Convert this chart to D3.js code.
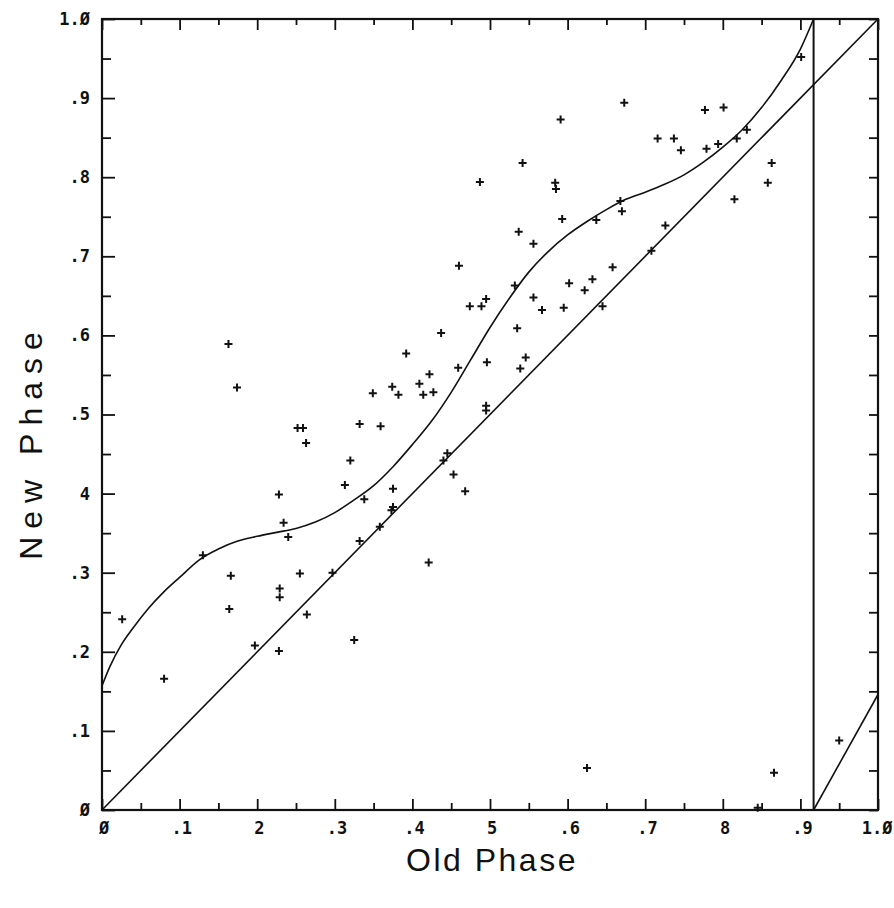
<!DOCTYPE html>
<html>
<head>
<meta charset="utf-8">
<script src="https://cdn.jsdelivr.net/npm/d3@7"></script>
<style>
  body { margin: 0; background: #fff; }
  svg { display: block; }
  .tick-lbl { font-family: "DejaVu Sans Mono", monospace; font-size: 17px; font-weight: bold; fill: #111; }
  .ax-title { font-family: "Liberation Sans", Arial, sans-serif; font-size: 32px; fill: #111; }
</style>
</head>
<body>
<div id="chart"></div>
<script>
// tick values and their printed labels (the original plot drops some dots)
const majorTicks = [0, .1, .2, .3, .4, .5, .6, .7, .8, .9, 1.0];
const xTickLabels = ['Ø', '.1', '2', '.3', '.4', '5', '.6', '.7', '8', '.9', '1.Ø'];
const yTickLabels = ['Ø', '.1', '.2', '.3', '4', '.5', '.6', '.7', '.8', '.9', '1.Ø'];
const minorTicks = [.05, .15, .25, .35, .45, .55, .65, .75, .85, .95];

// observed phases (old, new)
const oldPhase = [
  0.026, 0.080, 0.130, 0.166, 0.164, 0.197, 0.228, 0.234, 0.240, 0.229,
  0.229, 0.228, 0.255, 0.264, 0.252, 0.259, 0.263, 0.297, 0.313, 0.320,
  0.332, 0.359, 0.338, 0.332, 0.325, 0.358, 0.375, 0.375, 0.373, 0.421,
  0.440, 0.445, 0.453, 0.468, 0.163, 0.174, 0.349, 0.374, 0.382, 0.392,
  0.409, 0.414, 0.422, 0.427, 0.437, 0.459, 0.460, 0.474, 0.489, 0.495,
  0.487, 0.496, 0.495, 0.495, 0.901, 0.673, 0.777, 0.801, 0.591, 0.716,
  0.737, 0.746, 0.779, 0.794, 0.818, 0.831, 0.863, 0.858, 0.815, 0.542,
  0.584, 0.585, 0.593, 0.537, 0.556, 0.668, 0.670, 0.637, 0.726, 0.708,
  0.532, 0.602, 0.632, 0.658, 0.622, 0.556, 0.567, 0.595, 0.645, 0.535,
  0.546, 0.539, 0.625, 0.866, 0.950, 0.845
];
const newPhase = [
  0.241, 0.166, 0.322, 0.296, 0.254, 0.208, 0.399, 0.363, 0.345, 0.280,
  0.269, 0.201, 0.299, 0.247, 0.483, 0.483, 0.464, 0.300, 0.411, 0.442,
  0.488, 0.485, 0.393, 0.340, 0.215, 0.358, 0.406, 0.383, 0.379, 0.313,
  0.442, 0.451, 0.424, 0.403, 0.589, 0.534, 0.527, 0.535, 0.525, 0.577,
  0.539, 0.525, 0.551, 0.528, 0.603, 0.559, 0.688, 0.637, 0.637, 0.646,
  0.794, 0.566, 0.511, 0.505, 0.952, 0.894, 0.885, 0.888, 0.873, 0.849,
  0.849, 0.834, 0.836, 0.842, 0.849, 0.860, 0.818, 0.793, 0.772, 0.818,
  0.793, 0.785, 0.747, 0.731, 0.716, 0.770, 0.757, 0.746, 0.739, 0.707,
  0.663, 0.666, 0.671, 0.686, 0.657, 0.648, 0.632, 0.635, 0.637, 0.609,
  0.572, 0.558, 0.053, 0.047, 0.088, 0.003
];

// fitted phase response curve
const curveOld = [0, 0.01, 0.025, 0.04, 0.06, 0.08, 0.10, 0.125, 0.15, 0.175, 0.20,
  0.225, 0.25, 0.275, 0.30, 0.325, 0.35, 0.375, 0.40, 0.425, 0.45, 0.475, 0.50,
  0.525, 0.55, 0.575, 0.60, 0.625, 0.65, 0.675, 0.70, 0.725, 0.75, 0.775, 0.80,
  0.825, 0.85, 0.875, 0.90, 0.917];
const curveNew = [0.157, 0.181, 0.209, 0.230, 0.255, 0.276, 0.294, 0.316, 0.330, 0.340, 0.346,
  0.351, 0.356, 0.364, 0.376, 0.392, 0.410, 0.434, 0.462, 0.492, 0.528, 0.569, 0.610,
  0.647, 0.680, 0.706, 0.727, 0.744, 0.759, 0.772, 0.781, 0.791, 0.803, 0.819, 0.838,
  0.860, 0.888, 0.922, 0.962, 1.0];
// part of the curve that wraps past new phase 1.0
const wrapOld = [0.917, 1.0];
const wrapNew = [0.0, 0.146];
const resetPhase = 0.917;

const W = 894, H = 908;
const svg = d3.select('#chart').append('svg')
  .attr('width', W)
  .attr('height', H);

const x = d3.scaleLinear().domain([0, 1]).range([102, 878]);
const y = d3.scaleLinear().domain([0, 1]).range([810, 19]);

// frame ticks (all drawn inward)
function ticks(axisFn, values, size, labels) {
  const a = axisFn.tickValues(values).tickSize(-size).tickSizeOuter(0);
  if (labels) a.tickFormat((d, i) => labels[i]).tickPadding(12);
  else a.tickFormat('');
  return a;
}

const gB = svg.append('g').attr('transform', `translate(0,${y(0)})`);
gB.call(ticks(d3.axisBottom(x), majorTicks, 11, xTickLabels));
gB.append('g').call(ticks(d3.axisBottom(x), minorTicks, 7));

const gT = svg.append('g').attr('transform', `translate(0,${y(1)})`);
gT.call(ticks(d3.axisTop(x), majorTicks, 11));
gT.append('g').call(ticks(d3.axisTop(x), minorTicks, 6));

const gL = svg.append('g').attr('transform', `translate(${x(0)},0)`);
gL.call(ticks(d3.axisLeft(y), majorTicks, 13, yTickLabels));
gL.append('g').call(ticks(d3.axisLeft(y), minorTicks, 9));

const gR = svg.append('g').attr('transform', `translate(${x(1)},0)`);
gR.call(ticks(d3.axisRight(y), majorTicks, 9));
gR.append('g').call(ticks(d3.axisRight(y), minorTicks, 9));

svg.selectAll('.domain').remove();
svg.selectAll('.tick line').attr('stroke', '#111').attr('stroke-width', 1.8);
svg.selectAll('.tick text').attr('class', 'tick-lbl').attr('fill', null);
gB.selectAll('.tick text').attr('dx', '0.1em');
// last x label sits against the page edge
gB.selectAll('.tick text').filter(d => d === 1)
  .attr('text-anchor', 'end').attr('dx', null).attr('x', 14);

// plot frame
svg.append('rect')
  .attr('x', x(0)).attr('y', y(1))
  .attr('width', x(1) - x(0)).attr('height', y(0) - y(1))
  .attr('fill', 'none').attr('stroke', '#111').attr('stroke-width', 2.2);

// identity line
const line = d3.line().x(d => x(d[0])).y(d => y(d[1]));
svg.append('path')
  .attr('d', line([[0, 0], [1, 1]]))
  .attr('fill', 'none').attr('stroke', '#111').attr('stroke-width', 1.6);

// fitted curve
const smooth = d3.line().x(d => x(d[0])).y(d => y(d[1])).curve(d3.curveMonotoneX);
svg.append('path')
  .attr('d', smooth(d3.zip(curveOld, curveNew)))
  .attr('fill', 'none').attr('stroke', '#111').attr('stroke-width', 1.6);
svg.append('path')
  .attr('d', line(d3.zip(wrapOld, wrapNew)))
  .attr('fill', 'none').attr('stroke', '#111').attr('stroke-width', 1.6);

// vertical line where the new phase wraps
svg.append('line')
  .attr('x1', x(resetPhase)).attr('x2', x(resetPhase))
  .attr('y1', y(0)).attr('y2', y(1))
  .attr('stroke', '#111').attr('stroke-width', 2);

// data points as plus marks
svg.append('g').selectAll('path')
  .data(d3.zip(oldPhase, newPhase))
  .join('path')
  .attr('transform', d => `translate(${x(d[0])},${y(d[1])})`)
  .attr('d', 'M-4,0H4M0,-4V4')
  .attr('stroke', '#111').attr('stroke-width', 2);

// axis titles
svg.append('text')
  .attr('class', 'ax-title')
  .attr('x', 492).attr('y', 871)
  .attr('text-anchor', 'middle')
  .style('letter-spacing', '2.5px')
  .text('Old Phase');

svg.append('text')
  .attr('class', 'ax-title')
  .attr('transform', 'translate(42,442) rotate(-90)')
  .attr('text-anchor', 'middle')
  .style('letter-spacing', '8px')
  .text('New Phase');
</script>
</body>
</html>
